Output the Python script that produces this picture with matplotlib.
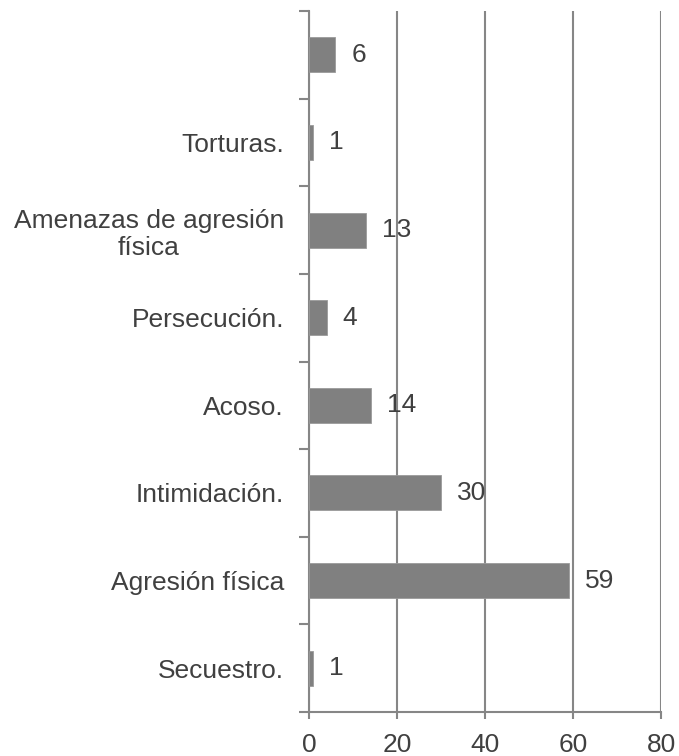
import numpy as np
import matplotlib.pyplot as plt

plt.rcParams['font.family'] = ['Liberation Sans', 'DejaVu Sans']

# categories bottom -> top
categories = ['Secuestro.', 'Agresión física', 'Intimidación.', 'Acoso.',
              'Persecución.', 'Amenazas de agresión\nfísica', 'Torturas.', '']
values = [1, 59, 30, 14, 4, 13, 1, 6]
xticks = [0, 20, 40, 60, 80]

axis_col = '#868686'
text_col = '#404040'
bar_col = '#808080'

fig = plt.figure(figsize=(6.79, 7.56), dpi=100)
ax = fig.add_axes([309 / 679, 1 - 712 / 756, 352 / 679, 701 / 756])

y = np.arange(len(categories))
ax.barh(y, values, height=0.4, color=bar_col, edgecolor='#9a9a9a',
        linewidth=0.6, zorder=3)

for yi, v in zip(y, values):
    ax.annotate(str(v), (v, yi), xytext=(16, 0), textcoords='offset pixels',
                va='center', ha='left', fontsize=19, color=text_col, zorder=4)

ax.set_xlim(0, 80)
ax.set_ylim(-0.5, len(categories) - 0.5)
ax.set_xticks(xticks)
ax.set_xticklabels([str(t) for t in xticks])
ax.set_yticks(y)
ax.set_yticklabels(categories, ha='center', multialignment='center')
ax.set_yticks(np.arange(-0.5, len(categories)), minor=True)

ax.grid(axis='x', color=axis_col, linewidth=1.5, zorder=0)
for s in ['top', 'right']:
    ax.spines[s].set_visible(False)
for s in ['left', 'bottom']:
    ax.spines[s].set_color(axis_col)
    ax.spines[s].set_linewidth(1.5)

ax.tick_params(axis='x', length=5, width=1.5, color=axis_col, labelsize=19,
               labelcolor=text_col, pad=10)
ax.tick_params(axis='y', which='major', length=0, labelsize=19,
               labelcolor=text_col, pad=95)
ax.tick_params(axis='y', which='minor', length=7, width=1.5, color=axis_col)

fig.canvas.draw()
# center-aligned y labels: shift so right edge sits ~25px left of spine
for lab in ax.get_yticklabels():
    bb = lab.get_window_extent()
    lab.set_x(0)
renderer = fig.canvas.get_renderer()
import matplotlib.transforms as mtrans
for lab in ax.get_yticklabels():
    bb = lab.get_window_extent(renderer)
    shift = (309 - 25) - bb.x1
    lab.set_transform(lab.get_transform() + mtrans.Affine2D().translate(shift, 0))

fig.savefig('out.png', dpi=100)
